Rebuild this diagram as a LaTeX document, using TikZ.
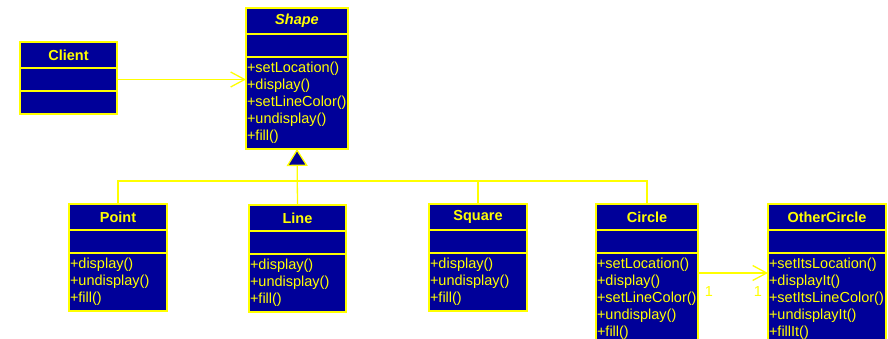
\documentclass[tikz,border=0pt]{standalone}
\usepackage{fontspec}
\setmainfont{Liberation Sans}
\usetikzlibrary{positioning,arrows.meta}

\definecolor{umlblue}{RGB}{0,0,153}
\definecolor{umlyellow}{RGB}{255,255,0}

\tikzset{
  box/.style={draw=umlyellow, fill=umlblue, line width=1.4pt, outer sep=0pt, text=umlyellow},
  head/.style={box, anchor=north west, minimum width=#1, minimum height=26pt, inner sep=0pt,
    font=\fontsize{14.5}{17}\selectfont\bfseries},
  attr/.style={box, minimum width=#1, minimum height=23pt, inner sep=0pt},
  ops/.style={box, text width=#1, inner xsep=1pt, inner ysep=3.5pt, align=left,
    font=\fontsize{14.5}{17}\selectfont, execute at begin node=\strut, execute at end node=\strut},
  dep/.style={draw=umlyellow, line width=1.3pt, -{Straight Barb[length=14pt,width=15pt]}},
  tree/.style={draw=umlyellow, line width=1.3pt},
  inherit/.style={tree, -{Triangle[length=17pt,width=21pt,fill=umlblue]}},
  mult/.style={text=umlyellow, font=\fontsize{14.5}{17}\selectfont, inner sep=0pt}
}

\begin{document}
\begin{tikzpicture}[x=1pt, y=1pt]
    \useasboundingbox (0,0) rectangle (888,-339);

    % Client
    \node [head=97pt] (client-h) at (20,-42) {Client};
    \node [attr=97pt, below=0pt of client-h] (client-a) {};
    \node [attr=97pt, below=0pt of client-a] (client-o) {};

    % Shape
    \node [head=102pt, font=\fontsize{14.5}{17}\selectfont\bfseries\itshape] (shape-h) at (246,-8) {Shape};
    \node [attr=102pt, below=0pt of shape-h] (shape-a) {};
    \node [ops=100pt, below=0pt of shape-a] (shape-o)
      {+setLocation()\\+display()\\+setLineColor()\\+undisplay()\\+fill()};

    % Point
    \node [head=98pt] (point-h) at (69,-204) {Point};
    \node [attr=98pt, below=0pt of point-h] (point-a) {};
    \node [ops=96pt, below=0pt of point-a] (point-o) {+display()\\+undisplay()\\+fill()};

    % Line
    \node [head=97pt] (line-h) at (249,-205) {Line};
    \node [attr=97pt, below=0pt of line-h] (line-a) {};
    \node [ops=95pt, below=0pt of line-a] (line-o) {+display()\\+undisplay()\\+fill()};

    % Square
    \node [head=98pt] (square-h) at (429,-204) {Square};
    \node [attr=98pt, below=0pt of square-h] (square-a) {};
    \node [ops=96pt, below=0pt of square-a] (square-o) {+display()\\+undisplay()\\+fill()};

    % Circle
    \node [head=102pt] (circle-h) at (596,-204) {Circle};
    \node [attr=102pt, below=0pt of circle-h] (circle-a) {};
    \node [ops=100pt, below=0pt of circle-a] (circle-o)
      {+setLocation()\\+display()\\+setLineColor()\\+undisplay()\\+fill()};

    % OtherCircle
    \node [head=118pt] (other-h) at (768,-204) {OtherCircle};
    \node [attr=118pt, below=0pt of other-h] (other-a) {};
    \node [ops=116pt, below=0pt of other-a] (other-o)
      {+setItsLocation()\\+displayIt()\\+setItsLineColor()\\+undisplayIt()\\+fillIt()};

    % Associations
    \draw [dep] (client-a.east) -- (client-a.east -| shape-o.west);
    \coordinate (link) at ([yshift=-20pt]circle-o.north east);
    \draw [dep] (link) -- (link -| other-o.west);
    \node [mult] (mult-circle) at (709,-292) {1};
    \node [mult] (mult-other) at (758,-292) {1};

    % Generalisation
    \coordinate (bus) at (0,-181);
    \draw [tree] (point-h.north) |- (bus -| circle-h.north) -- (circle-h.north);
    \draw [tree] (square-h.north) -- (square-h.north |- bus);
    \draw [inherit] (line-h.north) -- (shape-o.south);
\end{tikzpicture}
\end{document}
